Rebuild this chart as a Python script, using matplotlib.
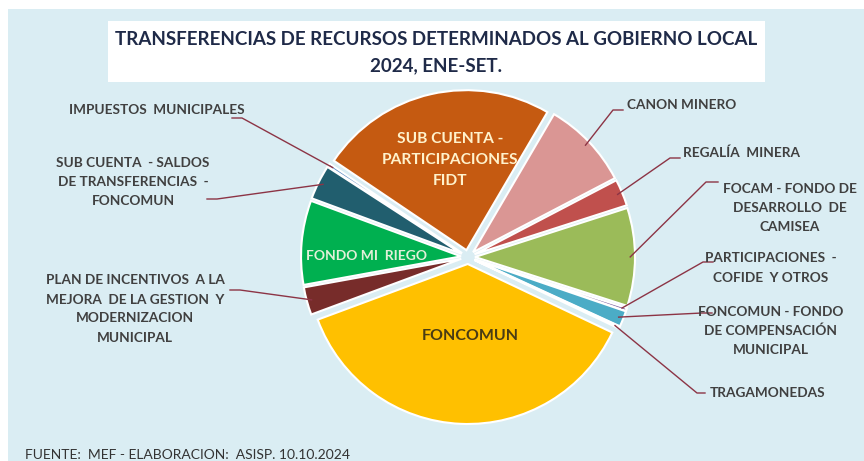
import numpy as np
import matplotlib.pyplot as plt
from matplotlib.patches import Rectangle

# tamaño de la imagen en pixeles
W, H = 864, 461

# datos (porcentaje estimado del total), en sentido horario desde CANON MINERO
etiquetas = ['CANON MINERO', 'REGALÍA  MINERA',
             'FOCAM - FONDO DE\nDESARROLLO  DE\nCAMISEA',
             'PARTICIPACIONES  -\nCOFIDE  Y OTROS',
             'FONCOMUN - FONDO\nDE COMPENSACIÓN\nMUNICIPAL',
             'TRAGAMONEDAS', 'FONCOMUN',
             'PLAN DE INCENTIVOS  A LA\nMEJORA  DE LA GESTION  Y\nMODERNIZACION\nMUNICIPAL',
             'FONDO MI  RIEGO',
             'SUB CUENTA  - SALDOS\nDE TRANSFERENCIAS  -\nFONCOMUN',
             'IMPUESTOS  MUNICIPALES',
             'SUB CUENTA -\nPARTICIPACIONES\nFIDT']
valores = [8.9, 2.7, 9.9, 0.3, 1.6, 0.2, 37.3, 2.8, 8.5, 3.5, 0.3, 24.0]
colores = ['#DA9694', '#C0504D', '#9BBB59', '#8064A2', '#4BACC6', '#F79646',
           '#FFC000', '#772C2A', '#00B050', '#215E6E', '#4F81BD', '#C55A11']

titulo = 'TRANSFERENCIAS DE RECURSOS DETERMINADOS AL GOBIERNO LOCAL\n2024, ENE-SET.'
fuente = 'FUENTE:  MEF - ELABORACION:  ASISP. 10.10.2024'

# etiquetas externas: (x texto, y texto, alineacion, x fin linea, y fin linea, codo)
externas = {
    0: (627, 105, 'left', 623, 110, 613),
    1: (683, 153, 'left', 680, 158, 670),
    2: (790, 208, 'center', 718, 182, 706),
    3: (771, 268, 'center', 713, 262, 703),
    4: (771, 331, 'center', 712, 313, 702),
    5: (710, 393, 'left', 705, 393, 697),
    7: (135, 309, 'center', 230, 290, 240),
    9: (133, 182, 'center', 207, 199, 217),
    10: (157, 110, 'center', 232, 118, 242),
}
# etiquetas internas: (x, y, color, tamaño)
internas = {
    11: (450, 160, '#FFF2CC', 11.2),
    8: (367, 256, '#E2F0D9', 10),
    6: (470, 336, '#4A3C14', 11.5),
}


def py(y):
    return H - y


plt.rcParams['font.family'] = ['Lato', 'DejaVu Sans']

fig = plt.figure(figsize=(W / 100, H / 100), dpi=100, facecolor='white')
ax = fig.add_axes([0, 0, 1, 1])

# fondo y caja del titulo
ax.add_patch(Rectangle((8, 0), W - 8, H - 9, facecolor='#DAEDF3', edgecolor='none', zorder=0))
ax.add_patch(Rectangle((108, py(82)), 657, 61, facecolor='white', edgecolor='none', zorder=1))
ax.text(436, py(53), titulo, ha='center', va='center', fontsize=13.5, fontweight='bold',
        color='#1F2A48', linespacing=1.65, zorder=2)

centro = (468, py(257))
radio = 160
wedges, _ = ax.pie(valores, colors=colores, startangle=90 - 30.4, counterclock=False,
                   radius=radio, center=centro, explode=[7] * len(valores),
                   wedgeprops=dict(edgecolor='white', linewidth=1.5), frame=True)
ax.set_xlim(0, W)
ax.set_ylim(0, H)
ax.set_aspect('equal')
ax.axis('off')
for w in wedges:
    w.set_zorder(3)

gris = '#404040'
linea = '#8C3445'
for i, (xt, yt, ha, xe, ye, xc) in externas.items():
    w = wedges[i]
    ang = np.deg2rad((w.theta1 + w.theta2) / 2)
    cx, cy = w.center
    px = cx + 0.97 * radio * np.cos(ang)
    pyy = cy + 0.97 * radio * np.sin(ang)
    ax.plot([px, xc, xe], [pyy, py(ye), py(ye)], color=linea, lw=1, zorder=4)
    ax.text(xt, py(yt), etiquetas[i], ha=ha, va='center', multialignment='center',
            fontsize=9.8, fontweight='bold', color=gris, linespacing=1.7, zorder=5)

for i, (xt, yt, c, fs) in internas.items():
    ax.text(xt, py(yt), etiquetas[i], ha='center', va='center', fontsize=fs,
            fontweight='bold', color=c, linespacing=1.65, zorder=5)

ax.text(25, py(455), fuente, ha='left', va='center', fontsize=10, color='#333333', zorder=5)

fig.savefig('out.png', dpi=100, facecolor='white')
